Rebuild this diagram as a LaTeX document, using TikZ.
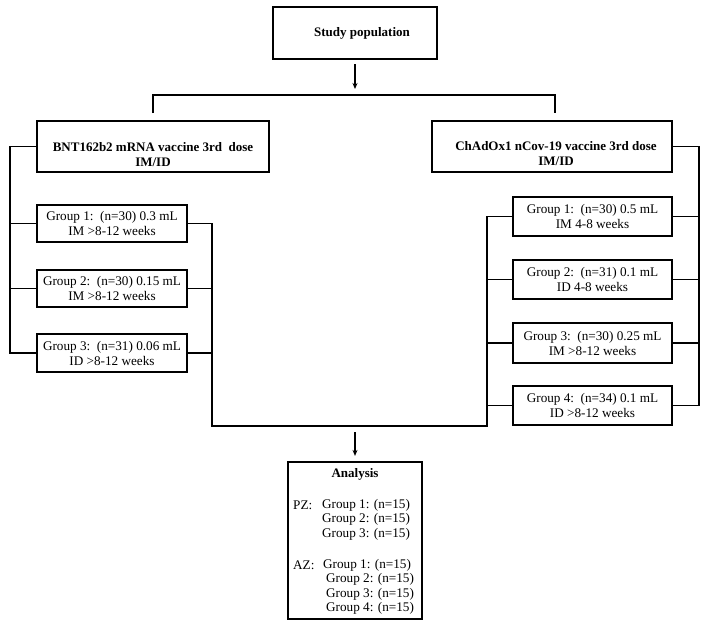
\documentclass[tikz,border=0pt]{standalone}
\usepackage{fontspec}
\setmainfont{Liberation Serif}
\usetikzlibrary{arrows.meta}
\begin{document}
\begin{tikzpicture}[x=1pt,y=-1pt,
  box/.style={draw,line width=2.2pt,inner sep=0pt,align=center,font=\fontsize{13.2}{15}\selectfont},
  txt/.style={inner sep=0pt,align=center,font=\fontsize{13.2}{15}\selectfont},
  btxt/.style={inner sep=0pt,align=center,font=\fontsize{13}{15}\selectfont\bfseries},
  conn/.style={line width=1.5pt},
  arr/.style={line width=1.2pt,-{Stealth[length=6pt,width=5pt]}}]
\useasboundingbox (0,0) rectangle (709,626);

% boxes
\node[box,minimum width=164,minimum height=52] (study) at (355,33) {};
\node[btxt] (studyt) at (362,33) {Study population};
\node[box,minimum width=232,minimum height=51] (bnt) at (153,146.5) {};
\node[btxt] (bntt) at (153,154.5) {BNT162b2 mRNA vaccine 3rd\ \ dose\\IM/ID};
\node[box,minimum width=240,minimum height=51] (chad) at (552,146.5) {};
\node[btxt] (chadt) at (556,154) {ChAdOx1 nCov-19 vaccine 3rd dose\\IM/ID};

\node[box,minimum width=150,minimum height=37] (lg1) at (112,223.5) {Group 1:\ \ (n=30) 0.3 mL\\IM >8-12 weeks};
\node[box,minimum width=150,minimum height=37] (lg2) at (112,288.5) {Group 2:\ \ (n=30) 0.15 mL\\IM >8-12 weeks};
\node[box,minimum width=150,minimum height=38] (lg3) at (112,353) {Group 3:\ \ (n=31) 0.06 mL\\ID >8-12 weeks};

\node[box,minimum width=159,minimum height=39] (rg1) at (592.5,216.5) {Group 1:\ \ (n=30) 0.5 mL\\IM 4-8 weeks};
\node[box,minimum width=159,minimum height=39] (rg2) at (592.5,279.5) {Group 2:\ \ (n=31) 0.1 mL\\ID 4-8 weeks};
\node[box,minimum width=159,minimum height=40] (rg3) at (592.5,343) {Group 3:\ \ (n=30) 0.25 mL\\IM >8-12 weeks};
\node[box,minimum width=159,minimum height=39] (rg4) at (592.5,405.5) {Group 4:\ \ (n=34) 0.1 mL\\ID >8-12 weeks};

\node[box,minimum width=134,minimum height=157] (an) at (355,540.5) {};
\node[btxt] (ant) at (355,474) {Analysis};
\node[txt,anchor=west] (pz) at (293,505) {PZ:};
\node[txt,anchor=west] (pz1) at (322,505) {Group 1: (n=15)};
\node[txt,anchor=west] (pz2) at (322,519.5) {Group 2: (n=15)};
\node[txt,anchor=west] (pz3) at (322,534) {Group 3: (n=15)};
\node[txt,anchor=west] (az) at (293,565) {AZ:};
\node[txt,anchor=west] (az1) at (323,565) {Group 1: (n=15)};
\node[txt,anchor=west] (az2) at (326,579.5) {Group 2: (n=15)};
\node[txt,anchor=west] (az3) at (326,594) {Group 3: (n=15)};
\node[txt,anchor=west] (az4) at (326,608.5) {Group 4: (n=15)};

% coordinates
\coordinate (split) at (355,95);
\coordinate (tl) at (153,113);
\coordinate (tr) at (555,113);
\coordinate (lbus) at (10,0);
\coordinate (rob) at (699,0);
\coordinate (lib) at (212,426);
\coordinate (rib) at (487,426);
\coordinate (join) at (355,426);

% connectors
\draw[arr] ([yshift=-4pt]study.south) -- ([yshift=6pt]split);
\draw[conn] (tl) |- (split) -| (tr);

\draw[conn] (bnt.west) -- (bnt.west -| lbus) |- (lg3.west);
\draw[conn] (lg1.west) -- (lg1.west -| lbus);
\draw[conn] (lg2.west) -- (lg2.west -| lbus);

\draw[conn] (chad.east) -- (chad.east -| rob) |- (rg4.east);
\draw[conn] (rg1.east) -- (rg1.east -| rob);
\draw[conn] (rg2.east) -- (rg2.east -| rob);
\draw[conn] (rg3.east) -- (rg3.east -| rob);

\draw[conn] (lg1.east) -| (lib) -- (rib) |- (rg1.west);
\draw[conn] (lg2.east) -- (lg2.east -| lib);
\draw[conn] (lg3.east) -- (lg3.east -| lib);
\draw[conn] (rg2.west) -- (rg2.west -| rib);
\draw[conn] (rg3.west) -- (rg3.west -| rib);
\draw[conn] (rg4.west) -- (rg4.west -| rib);

\draw[arr] ([yshift=-6pt]join) -- ([yshift=5pt]an.north);
\end{tikzpicture}
\end{document}
